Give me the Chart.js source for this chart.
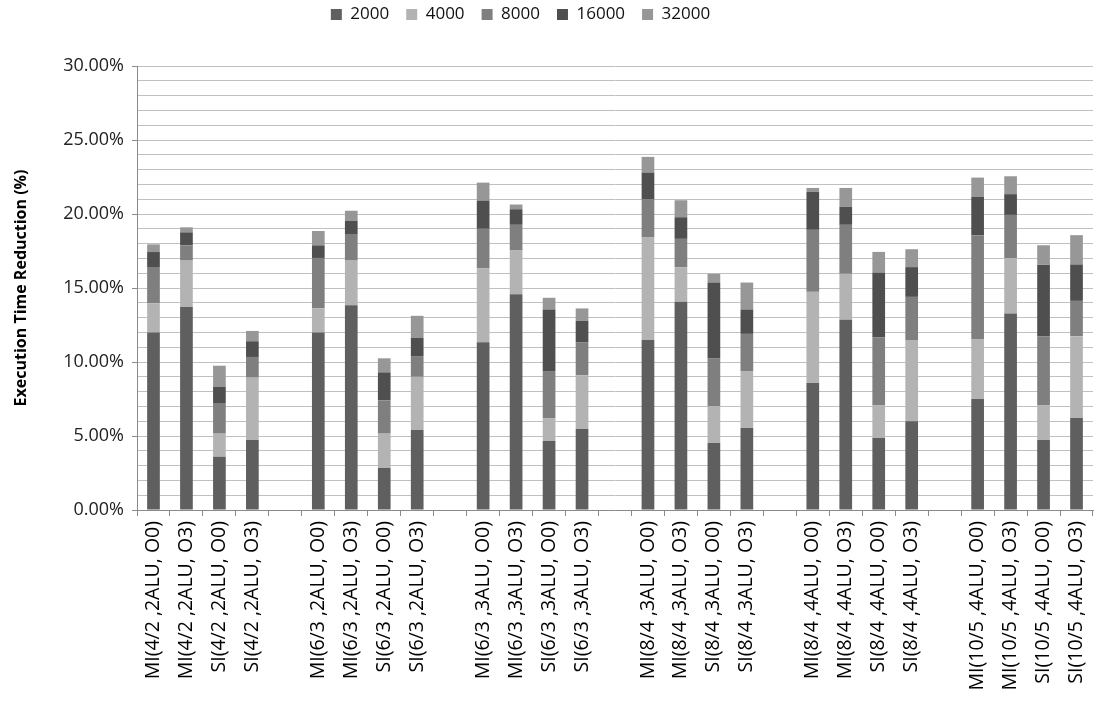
<!DOCTYPE html>
<html>
<head>
<meta charset="utf-8">
<script src="https://cdn.jsdelivr.net/npm/chart.js@4/dist/chart.umd.min.js"></script>
<style>
html,body{margin:0;padding:0;background:#fff;}
#wrap{width:1094px;height:702px;}
</style>
</head>
<body>
<div id="wrap"><canvas id="c" width="1094" height="702"></canvas></div>
<script>
const categories = [
  'MI(4/2 ,2ALU, O0)','MI(4/2 ,2ALU, O3)','SI(4/2 ,2ALU, O0)','SI(4/2 ,2ALU, O3)','',
  'MI(6/3 ,2ALU, O0)','MI(6/3 ,2ALU, O3)','SI(6/3 ,2ALU, O0)','SI(6/3 ,2ALU, O3)','',
  'MI(6/3 ,3ALU, O0)','MI(6/3 ,3ALU, O3)','SI(6/3 ,3ALU, O0)','SI(6/3 ,3ALU, O3)','',
  'MI(8/4 ,3ALU, O0)','MI(8/4 ,3ALU, O3)','SI(8/4 ,3ALU, O0)','SI(8/4 ,3ALU, O3)','',
  'MI(8/4 ,4ALU, O0)','MI(8/4 ,4ALU, O3)','SI(8/4 ,4ALU, O0)','SI(8/4 ,4ALU, O3)','',
  'MI(10/5 ,4ALU, O0)','MI(10/5 ,4ALU, O3)','SI(10/5 ,4ALU, O0)','SI(10/5 ,4ALU, O3)'
];
const seriesNames = ['2000','4000','8000','16000','32000'];
const s2000  = [12.00,13.74,3.60,4.73,null, 12.00,13.83,2.84,5.40,null, 11.34,14.58,4.66,5.47,null, 11.48,14.07,4.52,5.54,null, 8.58,12.85,4.86,6.00,null, 7.50,13.28,4.73,6.21];
const s4000  = [1.96,3.11,1.56,4.21,null, 1.63,3.02,2.32,3.60,null, 4.98,2.95,1.55,3.63,null, 6.93,2.34,2.50,3.85,null, 6.16,3.11,2.23,5.48,null, 4.05,3.74,2.36,5.52];
const s8000  = [2.46,1.03,2.07,1.40,null, 3.40,1.80,2.25,1.40,null, 2.68,1.74,3.18,2.24,null, 2.57,1.91,3.24,2.51,null, 4.19,3.31,4.57,2.92,null, 7.00,2.92,4.64,2.40];
const s16000 = [1.01,0.88,1.10,1.06,null, 0.85,0.88,1.89,1.24,null, 1.91,1.05,4.16,1.44,null, 1.82,1.46,5.11,1.65,null, 2.56,1.21,4.39,2.01,null, 2.61,1.40,4.83,2.46];
const s32000 = [0.52,0.34,1.42,0.70,null, 0.97,0.69,0.95,1.48,null, 1.21,0.32,0.79,0.84,null, 1.06,1.15,0.59,1.82,null, 0.27,1.28,1.39,1.21,null, 1.30,1.21,1.33,1.98];
const seriesColors = ['#5f5f5f','#b3b3b3','#7f7f7f','#4f4f4f','#979797'];
const yTicks = [0,5,10,15,20,25,30];

const FONT = '"Open Sans", "DejaVu Sans", sans-serif';
const allSeries = [s2000,s4000,s8000,s16000,s32000];

const legendFix = {
  id: 'legendFix',
  beforeUpdate(chart) {
    const lg = chart.legend;
    if (lg && !lg._patched) {
      const origFit = lg.fit;
      lg.fit = function() { origFit.call(this); this.height = 66; };
      const origDraw = lg.draw;
      lg.draw = function() {
        const ctx = this.ctx;
        ctx.save();
        ctx.translate(-32, -11);
        origDraw.call(this);
        ctx.restore();
      };
      lg._patched = true;
    }
  }
};

new Chart(document.getElementById('c'), {
  type: 'bar',
  data: {
    labels: categories,
    datasets: allSeries.map((d,i)=>({
      label: seriesNames[i],
      data: d,
      backgroundColor: seriesColors[i],
      borderWidth: 0,
      barPercentage: 0.385,
      categoryPercentage: 1.0
    }))
  },
  plugins: [legendFix],
  options: {
    responsive: false,
    animation: false,
    devicePixelRatio: 1,
    layout: { padding: { left: 12, right: 1, top: 0, bottom: 0 } },
    plugins: {
      legend: {
        position: 'top',
        labels: {
          font: { family: FONT, size: 17 },
          color: '#111',
          boxWidth: 11, boxHeight: 11,
          padding: 17
        }
      },
      tooltip: { enabled: false },
      title: { display: false }
    },
    scales: {
      x: {
        stacked: true,
        afterFit: (s) => { s.height = 192; s.paddingRight = 0; s.paddingLeft = 0; },
        grid: {
          display: true, offset: true, drawOnChartArea: false, drawTicks: true,
          tickLength: 6, color: '#8a8a8a', tickColor: '#8a8a8a'
        },
        border: { display: true, color: '#8a8a8a', width: 1 },
        ticks: {
          autoSkip: false, maxRotation: 90, minRotation: 90,
          font: { family: FONT, size: 19.5 }, color: '#000', padding: 5
        }
      },
      y: {
        stacked: true,
        min: 0, max: 30,
        afterFit: (s) => { s.width = 125; },
        afterBuildTicks: (scale) => {
          const t = [];
          for (let v = 0; v <= 30; v++) t.push({ value: v });
          scale.ticks = t;
        },
        grid: {
          color: '#c0c0c0', lineWidth: 1, drawTicks: true, tickLength: 5,
          tickColor: (ctx) => (ctx.tick && yTicks.includes(ctx.tick.value)) ? '#8a8a8a' : 'rgba(0,0,0,0)'
        },
        border: { display: true, color: '#8a8a8a', width: 1 },
        ticks: {
          autoSkip: false,
          font: { family: FONT, size: 18 }, color: '#222', padding: 8,
          callback: (v) => yTicks.includes(v) ? v.toFixed(2) + '%' : ''
        },
        title: {
          display: true, text: 'Execution Time Reduction (%)',
          font: { family: FONT, size: 16, weight: 'bold' }, color: '#000', padding: { top: 0, bottom: 0 }
        }
      }
    }
  }
});
</script>
</body>
</html>
